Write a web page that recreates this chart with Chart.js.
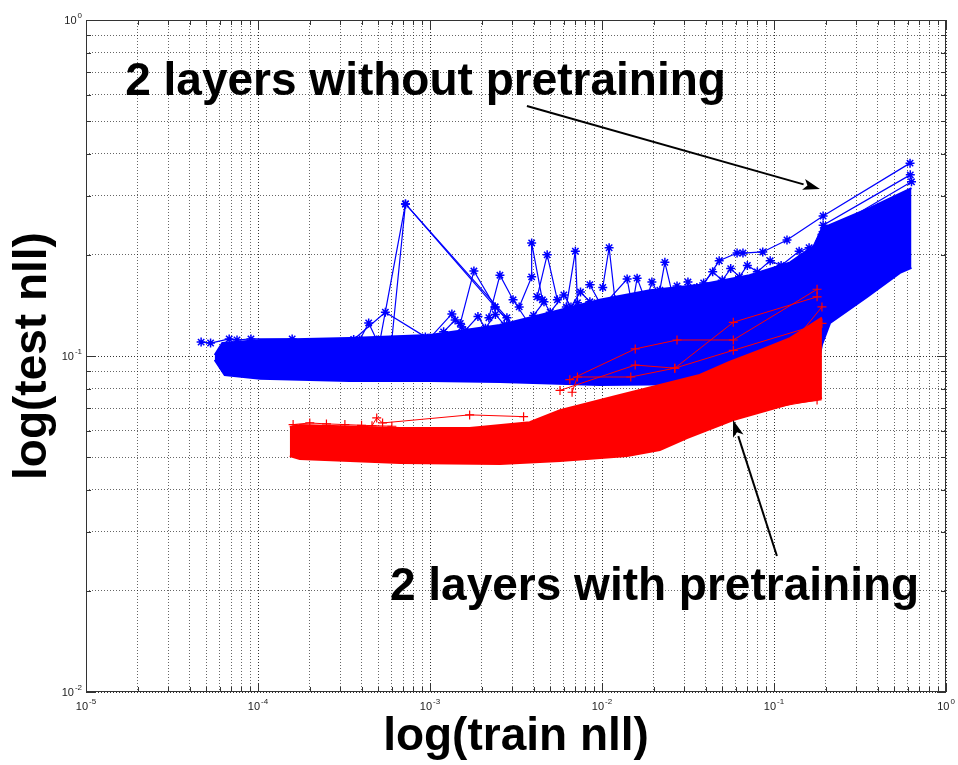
<!DOCTYPE html>
<html>
<head>
<meta charset="utf-8">
<title>log(test nll) vs log(train nll)</title>
<script src="https://cdn.jsdelivr.net/npm/chart.js@4.4.1/dist/chart.umd.min.js"></script>
<style>
  html, body { margin: 0; padding: 0; background: #fff; }
  #wrap { width: 958px; height: 765px; position: relative; }
</style>
</head>
<body>
<div id="wrap"><canvas id="nllChart"></canvas></div>
<script>
// decades shown on each axis, minor grid at 2..9 inside each decade
let xDecades = [-5, -4, -3, -2, -1, 0];
let yDecades = [-2, -1, 0];
let minorSteps = [2, 3, 4, 5, 6, 7, 8, 9];

// dense bundle of runs: upper / lower edge, [train nll, test nll]
let blueUpper = [[5.6e-5,0.1007],[6.2e-5,0.1093],[1.03e-4,0.1116],[3.4e-4,0.1132],[1e-3,0.1155],[2.55e-3,0.1237],[5.7e-3,0.137],[9.7e-3,0.147],[1.9e-2,0.157],[3.7e-2,0.163],[7.2e-2,0.174],[0.124,0.190],[0.173,0.214],[0.19,0.240],[0.361,0.276],[0.63,0.316]];
let blueLower = [[5.6e-5,0.0974],[6.4e-5,0.0878],[1.03e-4,0.0855],[3.4e-4,0.0843],[1e-3,0.0843],[2.55e-3,0.0837],[9.7e-3,0.082],[3.7e-2,0.0826],[0.108,0.0837],[0.173,0.0848],[0.19,0.108],[0.212,0.1254],[0.348,0.150],[0.54,0.1767],[0.63,0.183]];
let redUpper = [[1.53e-4,0.0615],[1.75e-4,0.0623],[6.7e-4,0.0611],[1.7e-3,0.0611],[3.8e-3,0.0635],[5.7e-3,0.069],[1.27e-2,0.0766],[2.17e-2,0.082],[3.7e-2,0.0878],[5.5e-2,0.096],[8.3e-2,0.104],[0.124,0.113],[0.19,0.130]];
let redLower = [[1.53e-4,0.0504],[1.75e-4,0.0494],[6.7e-4,0.0480],[2.55e-3,0.0477],[5.7e-3,0.0487],[1.4e-2,0.0504],[2.17e-2,0.0525],[3.12e-2,0.057],[5.8e-2,0.0645],[0.129,0.0725],[0.178,0.074],[0.19,0.075]];

// single runs that stick out of the bundles
let blueRuns = [
  [[5.1e-4,0.110],[7.2e-4,0.2835],[2.39e-3,0.140],[3.2e-3,0.1195]],
  [[6.0e-4,0.112],[7.2e-4,0.2835],[2.8e-3,0.130]],
  [[3.6e-4,0.112],[5.5e-4,0.135],[9.4e-4,0.114]],
  [[3.9e-4,0.1116],[4.4e-4,0.1254],[4.9e-4,0.1116]],
  [[1.0e-3,0.1132],[1.34e-3,0.1334],[1.53e-3,0.122]],
  [[1.5e-3,0.125],[1.8e-3,0.179],[2.39e-3,0.140],[3.2e-3,0.1195]],
  [[2.2e-3,0.130],[2.55e-3,0.174],[3.04e-3,0.147],[3.8e-3,0.1237]],
  [[3.3e-3,0.140],[3.9e-3,0.172],[3.9e-3,0.217],[4.5e-3,0.147]],
  [[4.2e-3,0.150],[4.8e-3,0.200],[5.5e-3,0.147]],
  [[6.2e-3,0.140],[7.0e-3,0.205],[7.2e-3,0.144]],
  [[1.01e-2,0.160],[1.1e-2,0.210],[1.19e-2,0.147]],
  [[2.17e-2,0.157],[2.32e-2,0.190],[2.55e-2,0.155]],
  [[3.7e-2,0.157],[4.8e-2,0.192],[6.1e-2,0.2025],[6.6e-2,0.2025],[8.6e-2,0.204],[0.119,0.2215],[0.193,0.261],[0.618,0.375]],
  [[0.16,0.20],[0.193,0.245],[0.62,0.346]],
  [[0.19,0.23],[0.63,0.33]],
  [[8.5e-3,0.163],[1.0e-2,0.140],[1.4e-2,0.1695],[1.5e-2,0.14],[1.6e-2,0.1705],[1.8e-2,0.145],[1.95e-2,0.166],[2.3e-2,0.142],[2.73e-2,0.1616],[3.0e-2,0.145],[3.16e-2,0.166],[3.3e-2,0.145],[3.56e-2,0.160]],
  [[4.67e-5,0.110],[5.3e-5,0.1093],[6.8e-5,0.1124],[7.55e-5,0.1116],[9.1e-5,0.1124],[1.58e-4,0.1124],[2.09e-4,0.1093],[4.0e-4,0.110]],
  [[1.2e-3,0.118],[1.4e-3,0.128],[1.6e-3,0.119],[1.9e-3,0.131],[2.1e-3,0.121],[2.4e-3,0.133],[2.7e-3,0.124]],
  [[4.0e-3,0.132],[4.6e-3,0.145],[5.0e-3,0.135],[6.0e-3,0.152],[6.6e-3,0.140],[7.5e-3,0.155],[8.5e-3,0.145]],
  [[3.9e-2,0.165],[4.4e-2,0.178],[5.0e-2,0.168],[5.6e-2,0.182],[6.3e-2,0.172],[7.0e-2,0.186],[8.0e-2,0.178],[9.5e-2,0.192],[0.11,0.186],[0.14,0.205],[0.16,0.21]]
];
let redRuns = [
  [[4.6e-4,0.0620],[4.9e-4,0.0654],[5.3e-4,0.0632],[1.7e-3,0.0668],[3.5e-3,0.066]],
  [[6.5e-3,0.085],[1.56e-2,0.105],[2.73e-2,0.1116],[5.8e-2,0.1116],[0.178,0.158]],
  [[5.7e-3,0.079],[1.56e-2,0.094],[2.65e-2,0.092],[5.8e-2,0.126],[0.178,0.150]],
  [[6.7e-3,0.078],[7.2e-3,0.0866],[1.47e-2,0.0866],[2.65e-2,0.092],[5.8e-2,0.104],[0.19,0.125]],
  [[3.0e-2,0.062],[6.97e-2,0.068],[0.178,0.074]],
  [[0.12,0.105],[0.19,0.14]],
  [[1.6e-4,0.0625],[2.0e-4,0.0632],[2.5e-4,0.0628],[3.2e-4,0.0625],[4.0e-4,0.0622],[6.0e-4,0.0618]]
];

// annotations, in data coordinates
let noteTexts = ['2 layers without pretraining', '2 layers with pretraining'];
let notePos = [[1.69e-5, 0.598], [5.85e-4, 0.0188]];
let arrowFrom = [[3.66e-3, 0.555], [0.104, 0.0254]];
let arrowTo = [[0.185, 0.314], [0.0578, 0.0645]];

const blue = '#0000ff';
const red = '#ff0000';
const fontFam = '"Liberation Sans", Arial, Helvetica, sans-serif';

function tickValues(decades) {
  let vals = [];
  decades.forEach((e, i) => {
    vals.push(Math.pow(10, e));
    if (i < decades.length - 1) minorSteps.forEach(m => vals.push(m * Math.pow(10, e)));
  });
  return vals.map(v => ({value: v, major: Number.isInteger(Math.log10(v))}));
}

let datasets = [];
function addLine(points, color, opts) {
  datasets.push(Object.assign({
    data: points,
    borderColor: color,
    backgroundColor: color,
    borderWidth: 1,
    pointRadius: 0,
    fill: false,
    tension: 0
  }, opts));
  return datasets.length - 1;
}

// red is drawn over blue (lower order = on top)
let rLow = addLine(redLower, red, {order: 0, borderWidth: 2});
addLine(redUpper, red, {order: 0, borderWidth: 2, fill: {target: rLow}});
redRuns.forEach(r => addLine(r, red, {order: 0, pointStyle: 'cross', pointRadius: 4.5, pointBorderWidth: 1.2}));
let bLow = addLine(blueLower, blue, {order: 1, borderWidth: 2});
addLine(blueUpper, blue, {order: 1, borderWidth: 2, fill: {target: bLow}});
blueRuns.forEach(r => addLine(r, blue, {order: 1, borderWidth: 1.2, pointStyle: 'star', pointRadius: 4.5, pointBorderWidth: 1.5}));

function drawPower(ctx, e, px, py, align) {
  // "10" with a small raised exponent, like the matlab labels
  ctx.font = '11px ' + fontFam;
  let wBase = ctx.measureText('10').width;
  ctx.font = '8px ' + fontFam;
  let wExp = ctx.measureText(String(e)).width;
  let left = align === 'right' ? px - wBase - wExp - 1 : px - (wBase + wExp + 1) / 2;
  ctx.textBaseline = 'alphabetic';
  ctx.textAlign = 'left';
  ctx.font = '11px ' + fontFam;
  ctx.fillText('10', left, py);
  ctx.font = '8px ' + fontFam;
  ctx.fillText(String(e), left + wBase + 1, py - 6);
}

function drawArrow(ctx, x0, y0, x1, y1) {
  let ang = Math.atan2(y1 - y0, x1 - x0);
  let len = 17, half = 5.5;
  let bx = x1 - len * Math.cos(ang), by = y1 - len * Math.sin(ang);
  ctx.beginPath();
  ctx.moveTo(x0, y0);
  ctx.lineTo(bx, by);
  ctx.stroke();
  ctx.beginPath();
  ctx.moveTo(x1, y1);
  ctx.lineTo(bx + half * Math.sin(ang), by - half * Math.cos(ang));
  ctx.lineTo(bx + 4 * Math.cos(ang), by + 4 * Math.sin(ang));
  ctx.lineTo(bx - half * Math.sin(ang), by + half * Math.cos(ang));
  ctx.closePath();
  ctx.fill();
}

const decorations = {
  id: 'decorations',
  afterDatasetsDraw(chart) {
    const {ctx, chartArea: a, scales: {x, y}} = chart;
    ctx.save();
    // box round the axes
    ctx.strokeStyle = '#333';
    ctx.lineWidth = 1;
    ctx.strokeRect(a.left + 0.5, a.top + 0.5, a.right - a.left - 1, a.bottom - a.top - 1);
    // inner tick marks on all four sides
    ctx.beginPath();
    x.ticks.forEach(t => {
      let px = Math.round(x.getPixelForValue(t.value)) + 0.5;
      let len = t.major ? 9 : 5;
      ctx.moveTo(px, a.bottom); ctx.lineTo(px, a.bottom - len);
      ctx.moveTo(px, a.top); ctx.lineTo(px, a.top + len);
    });
    y.ticks.forEach(t => {
      let py = Math.round(y.getPixelForValue(t.value)) + 0.5;
      let len = t.major ? 9 : 5;
      ctx.moveTo(a.left, py); ctx.lineTo(a.left + len, py);
      ctx.moveTo(a.right, py); ctx.lineTo(a.right - len, py);
    });
    ctx.stroke();
    // tick labels
    ctx.fillStyle = '#222';
    xDecades.forEach(e => drawPower(ctx, e, x.getPixelForValue(Math.pow(10, e)), a.bottom + 18, 'center'));
    yDecades.forEach(e => drawPower(ctx, e, a.left - 4, y.getPixelForValue(Math.pow(10, e)) + 4, 'right'));
    // annotations
    ctx.fillStyle = '#000';
    ctx.strokeStyle = '#000';
    ctx.lineWidth = 2;
    ctx.font = 'bold 46px ' + fontFam;
    ctx.textAlign = 'left';
    ctx.textBaseline = 'alphabetic';
    noteTexts.forEach((txt, i) => {
      ctx.fillText(txt, x.getPixelForValue(notePos[i][0]), y.getPixelForValue(notePos[i][1]));
    });
    arrowFrom.forEach((p, i) => {
      drawArrow(ctx, x.getPixelForValue(p[0]), y.getPixelForValue(p[1]),
        x.getPixelForValue(arrowTo[i][0]), y.getPixelForValue(arrowTo[i][1]));
    });
    ctx.restore();
  }
};

const gridOpts = {
  color: c => (c.tick && c.tick.major) ? 'rgba(0,0,0,0.8)' : 'rgba(0,0,0,0.6)',
  lineWidth: 1,
  drawTicks: false
};

new Chart(document.getElementById('nllChart'), {
  type: 'line',
  data: {datasets: datasets},
  options: {
    responsive: true,
    maintainAspectRatio: false,
    animation: false,
    events: [],
    layout: {padding: {left: 0, right: 12, top: 20, bottom: 0}},
    plugins: {legend: {display: false}, tooltip: {enabled: false}},
    scales: {
      x: {
        type: 'logarithmic',
        min: 1e-5,
        max: 1,
        afterBuildTicks: s => { s.ticks = tickValues(xDecades); },
        afterFit: s => { s.height = 73; },
        ticks: {display: false},
        grid: gridOpts,
        border: {display: false, dash: [1, 2]},
        title: {display: true, text: 'log(train nll)', color: '#000', padding: 0,
          font: {family: fontFam, size: 46, weight: 'bold'}}
      },
      y: {
        type: 'logarithmic',
        min: 1e-2,
        max: 1,
        afterBuildTicks: s => { s.ticks = tickValues(yDecades); },
        afterFit: s => { s.width = 86; },
        ticks: {display: false},
        grid: gridOpts,
        border: {display: false, dash: [1, 2]},
        title: {display: true, text: 'log(test nll)', color: '#000', padding: {top: 6, bottom: 0},
          font: {family: fontFam, size: 46, weight: 'bold'}}
      }
    }
  },
  plugins: [decorations]
});
</script>
</body>
</html>
